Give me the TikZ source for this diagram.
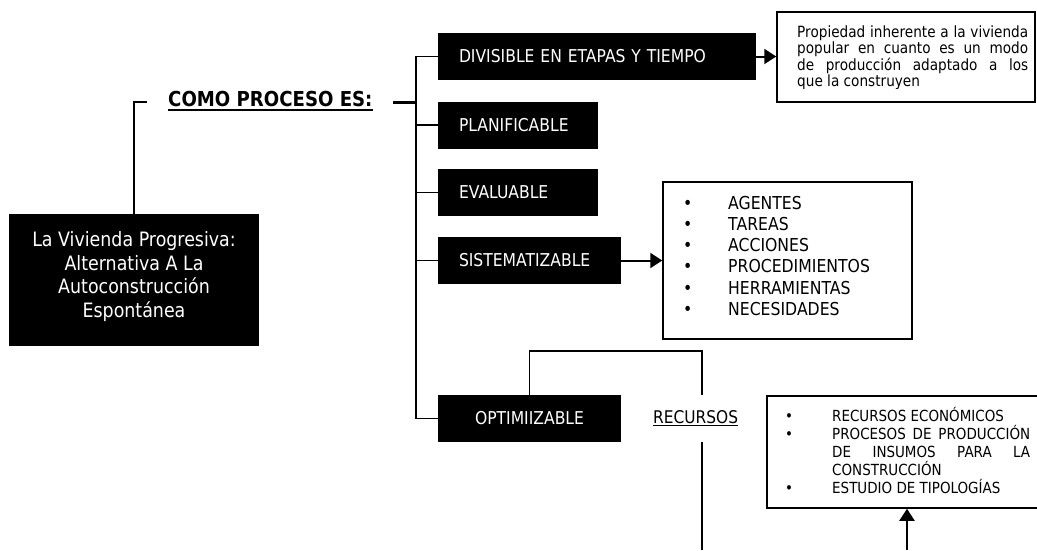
\documentclass[tikz,border=0pt]{standalone}
\usepackage{fontspec}
\setmainfont{DejaVu Sans}[FakeStretch=0.88]
\usetikzlibrary{arrows.meta}
\begin{document}
\begin{tikzpicture}[x=1pt,y=-1pt,
  blk/.style={fill=black,text=white,draw=none,inner ysep=0pt,minimum height=47pt,font=\fontsize{17.7}{20}\selectfont},
  wbox/.style={draw=black,line width=1.5pt,fill=white,inner sep=0pt},
  conn/.style={line width=1.6pt},
  thick2/.style={line width=2.4pt},
  arr/.style={line width=2pt,-{Triangle[length=12pt,width=15pt]}},
  txt/.style={inner sep=0pt,anchor=base west},
]
\useasboundingbox (0,0) rectangle (1037,550);

% main box
\node[blk, minimum width=250pt, minimum height=132pt] (main) at (134,280) {};
\node[inner sep=0pt, anchor=base, text=white, font=\fontsize{19.8}{23.5}\selectfont] (maintxt) at (134,246.7)
  {\parbox[t]{250pt}{\centering La Vivienda Progresiva:\\ Alternativa A La\\ Autoconstrucción\\ Espontánea}};

% COMO PROCESO ES
\node[txt, font=\bfseries\fontsize{20.6}{24}\selectfont] (como) at (168,106.7) {COMO PROCESO ES:};
\draw[line width=2pt] ([yshift=-3.3pt]como.base west) -- ([yshift=-3.3pt]como.base east);
\coordinate (c1) at (147,102);
\draw[conn] (main.north) |- (c1);

% black boxes
\node[blk, minimum width=318pt, text width=276pt, inner xsep=21pt, align=left] (div) at (597,56.5) {DIVISIBLE EN ETAPAS Y TIEMPO};
\node[blk, minimum width=160pt, text width=118pt, inner xsep=21pt, align=left] (plan) at (518,125) {PLANIFICABLE};
\node[blk, minimum width=160pt, text width=118pt, inner xsep=21pt, align=left] (eval) at (518,192.5) {EVALUABLE};
\node[blk, minimum width=183pt, text width=141pt, inner xsep=21pt, align=left] (sist) at (529.5,260.5) {SISTEMATIZABLE};
\node[blk, minimum width=183pt, text width=141pt, inner xsep=21pt, align=center] (opt) at (529.5,418.5) {OPTIMIIZABLE};

% trunk
\coordinate (trk) at (416,0);
\coordinate (c2) at (393,102.3);
\draw[thick2] (c2) -- (c2 -| trk);
\draw[conn] (div.west) -- (div.west -| trk) |- (opt.west);
\draw[conn] (plan.west) -- (plan.west -| trk);
\draw[conn] (eval.west) -- (eval.west -| trk);
\draw[conn] (sist.west) -- (sist.west -| trk);

% top text box
\node[wbox, minimum width=258pt, minimum height=90pt] (tbox) at (906,57) {};
\begin{scope}
\clip (778,13) rectangle (1034,88);
\node[txt, font=\fontsize{15.5}{16.3}\selectfont] (tboxtxt) at (797,37.5)
  {\parbox[t]{231pt}{\makebox[231pt][s]{Propiedad inherente a la vivienda}\\
   \makebox[231pt][s]{popular en cuanto es un modo}\\
   \makebox[231pt][s]{de producción adaptado a los}\\
   que la construyen}};
\end{scope}
\draw[arr] (div.east) -- (div.east -| tbox.west);

% list box
\node[wbox, minimum width=249pt, minimum height=157pt] (lst) at (787.5,260.5) {};
\node[txt, font=\fontsize{17.8}{21.2}\selectfont] (lsttxt) at (683,209.3)
  {\parbox[t]{225pt}{\makebox[45pt][l]{•}AGENTES\\
   \makebox[45pt][l]{•}TAREAS\\
   \makebox[45pt][l]{•}ACCIONES\\
   \makebox[45pt][l]{•}PROCEDIMIENTOS\\
   \makebox[45pt][l]{•}HERRAMIENTAS\\
   \makebox[45pt][l]{•}NECESIDADES}};
\draw[arr] (sist.east) -- (sist.east -| lst.west);

% recursos
\node[txt, font=\fontsize{17.5}{20}\selectfont] (rec) at (653,423) {RECURSOS};
\draw[line width=1.5pt] ([yshift=-2.5pt]rec.base west) -- ([yshift=-2.5pt]rec.base east);
\coordinate (bk1) at (702,395);
\draw[conn] (opt.north) -- ++(0,-44) -| (bk1);
\coordinate (rb1) at (702,442);
\coordinate (rb2) at (702,550);
\draw[thick2] (rb1) -- (rb2);

% resources box
\node[wbox, minimum width=280pt, minimum height=112pt] (res) at (907,452) {};
\node[txt, font=\fontsize{15.3}{18}\selectfont] (restxt) at (785,421.7)
  {\parbox[t]{260pt}{\makebox[47pt][l]{•}RECURSOS ECONÓMICOS\\
   \makebox[47pt][l]{•}\makebox[198pt][s]{PROCESOS DE PRODUCCIÓN}\\
   \hspace*{47pt}\makebox[198pt][s]{DE INSUMOS PARA LA}\\
   \hspace*{47pt}CONSTRUCCIÓN\\
   \makebox[47pt][l]{•}ESTUDIO DE TIPOLOGÍAS}};
\coordinate (ab) at (907,550);
\draw[arr] (ab) -- (res.south);
\end{tikzpicture}
\end{document}
